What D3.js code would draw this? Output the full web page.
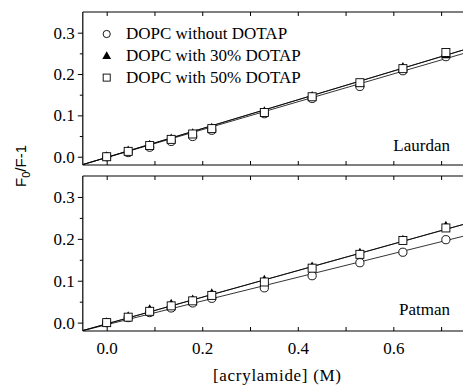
<!DOCTYPE html>
<html><head><meta charset="utf-8">
<script src="https://cdn.jsdelivr.net/npm/d3@7"></script>
<style>body{margin:0;background:#fff}svg{display:block}
.serif{font-family:"Liberation Serif","Times New Roman",Times,"DejaVu Serif",serif}
.sans{font-family:"Liberation Sans",Arial,sans-serif}
</style>
</head><body>
<script>
const conc = [0, 0.045, 0.09, 0.135, 0.18, 0.22, 0.33, 0.43, 0.53, 0.62, 0.71];
const seriesNames = ["DOPC without DOTAP", "DOPC with 30% DOTAP", "DOPC with 50% DOTAP"];
const laurdanWithout = [0.0, 0.010, 0.023, 0.037, 0.049, 0.064, 0.104, 0.141, 0.170, 0.208, 0.242];
const laurdan30 = [0.002, 0.016, 0.030, 0.045, 0.058, 0.071, 0.111, 0.148, 0.177, 0.218, 0.246];
const laurdan50 = [0.0, 0.013, 0.027, 0.042, 0.055, 0.068, 0.107, 0.145, 0.179, 0.213, 0.252];
const patmanWithout = [0.0, 0.012, 0.024, 0.035, 0.047, 0.058, 0.083, 0.112, 0.143, 0.168, 0.198];
const patman30 = [0.002, 0.016, 0.033, 0.046, 0.056, 0.071, 0.103, 0.135, 0.168, 0.199, 0.232];
const patman50 = [0.0, 0.013, 0.027, 0.040, 0.052, 0.065, 0.097, 0.130, 0.163, 0.196, 0.226];
// linear fits: [slope, intercept]
const laurdanFits = [[0.337, -0.002], [0.348, -0.0016], [0.348, -0.0016]];
const patmanFits = [[0.283, -0.005], [0.318, -0.003], [0.318, -0.003]];
const xTicks = [0.0, 0.2, 0.4, 0.6];
const xMinor = [0.0, 0.1, 0.2, 0.3, 0.4, 0.5, 0.6, 0.7];
const yTicks = [0.0, 0.1, 0.2, 0.3];
const yMinor = [0.05, 0.15, 0.25];
const xDomain = [-0.05, 0.75];
const yDomain = [-0.02, 0.35];

const W = 463, H = 385;
const svg = d3.select("body").append("svg").attr("width", W).attr("height", H);
const x = d3.scaleLinear().domain(xDomain).range([82.8, 465]);

const panels = [
  {name: "Laurdan", top: 12, bottom: 165, data: [laurdanWithout, laurdan30, laurdan50], fits: laurdanFits, labelY: 151, labelX: 450, showX: false},
  {name: "Patman", top: 176, bottom: 331, data: [patmanWithout, patman30, patman50], fits: patmanFits, labelY: 315, labelX: 450, showX: true}
];

const marker = [
  (g, cx, cy, s) => g.append("circle").attr("cx", cx).attr("cy", cy).attr("r", 4.1*s).attr("fill", "#fff").attr("stroke", "#000").attr("stroke-width", 0.9),
  (g, cx, cy, s) => g.append("path").attr("d", `M${cx},${cy-4.6*s}L${cx+4.4*s},${cy+3.2*s}L${cx-4.4*s},${cy+3.2*s}Z`).attr("fill", "#000"),
  (g, cx, cy, s) => g.append("rect").attr("x", cx-4*s).attr("y", cy-4*s).attr("width", 8*s).attr("height", 8*s).attr("fill", "#fff").attr("stroke", "#000").attr("stroke-width", 0.9)
];

panels.forEach(p => {
  const y = d3.scaleLinear().domain(yDomain).range([p.bottom, p.top]);
  const g = svg.append("g");
  const clipId = "clip" + p.name;
  svg.append("clipPath").attr("id", clipId).append("rect").attr("x", x.range()[0]).attr("y", p.top).attr("width", x.range()[1]-x.range()[0]).attr("height", p.bottom-p.top);

  const lg = g.append("g").attr("clip-path", `url(#${clipId})`);
  p.fits.forEach(f => {
    lg.append("line")
      .attr("x1", x(xDomain[0])).attr("y1", y(f[1] + f[0]*xDomain[0]))
      .attr("x2", x(xDomain[1])).attr("y2", y(f[1] + f[0]*xDomain[1]))
      .attr("stroke", "#000").attr("stroke-width", 0.8);
  });
  p.data.forEach((vals, si) => {
    vals.forEach((v, i) => marker[si](g, x(conc[i]), y(v), 1));
  });

  g.append("line").attr("x1", x.range()[0]).attr("x2", W).attr("y1", p.top).attr("y2", p.top).attr("stroke", "#000").attr("stroke-width", 1.2);
  g.append("line").attr("x1", x.range()[0]).attr("x2", W).attr("y1", p.bottom).attr("y2", p.bottom).attr("stroke", "#000").attr("stroke-width", 1.2);
  g.append("line").attr("x1", x.range()[0]).attr("x2", x.range()[0]).attr("y1", p.top).attr("y2", p.bottom).attr("stroke", "#000").attr("stroke-width", 1.2);

  const topAxis = d3.axisTop(x).tickValues(xMinor).tickSize(-4).tickFormat("");
  const tg = g.append("g").attr("transform", `translate(0,${p.top})`).call(topAxis);
  tg.select(".domain").remove();
  const botAxis = d3.axisBottom(x).tickValues(xMinor).tickSize(-4).tickFormat("");
  const bg = g.append("g").attr("transform", `translate(0,${p.bottom})`).call(botAxis);
  bg.select(".domain").remove();
  if (p.showX) {
    const lab = d3.axisBottom(x).tickValues(xTicks).tickSize(0).tickPadding(11).tickFormat(d3.format(".1f"));
    const lx = g.append("g").attr("transform", `translate(0,${p.bottom})`).call(lab);
    lx.select(".domain").remove();
    lx.attr("font-family", null).attr("font-size", null);
    lx.selectAll("text").attr("class", "serif").style("font-size", "17px").attr("fill", "#000");
  }

  const ya = d3.axisLeft(y).tickValues(yTicks).tickSize(5).tickPadding(3).tickFormat(d3.format(".1f"));
  const yg = g.append("g").attr("transform", `translate(${x.range()[0]},0)`).call(ya);
  yg.select(".domain").remove();
  yg.attr("font-family", null).attr("font-size", null);
  yg.selectAll("text").attr("class", "serif").style("font-size", "17px").attr("fill", "#000");
  const ym = d3.axisLeft(y).tickValues(yMinor).tickSize(3).tickFormat("");
  const ymg = g.append("g").attr("transform", `translate(${x.range()[0]},0)`).call(ym);
  ymg.select(".domain").remove();

  g.append("text").attr("class", "serif").attr("x", p.labelX).attr("y", p.labelY).attr("text-anchor", "end")
    .style("font-size", "17px").text(p.name);
});

const leg = svg.append("g");
seriesNames.forEach((n, i) => {
  const ly = 34 + i * 21.8;
  marker[i](leg, 106.7, ly, i === 1 ? 1 : 0.88);
  leg.append("text").attr("class", "serif").attr("x", 126).attr("y", ly + 5.2).style("font-size", "17px").text(n);
});

svg.append("text").attr("class", "serif").attr("x", 277).attr("y", 381).attr("text-anchor", "middle")
  .style("font-size", "17px").attr("textLength", 128).text("[acrylamide] (M)");
const yt = svg.append("text").attr("class", "sans").attr("transform", "translate(26,166) rotate(-90)").attr("text-anchor", "middle")
  .style("font-size", "15px");
yt.append("tspan").text("F");
yt.append("tspan").attr("dy", 4).style("font-size", "11px").text("0");
yt.append("tspan").attr("dy", -4).text("/F-1");
</script>
</body></html>
